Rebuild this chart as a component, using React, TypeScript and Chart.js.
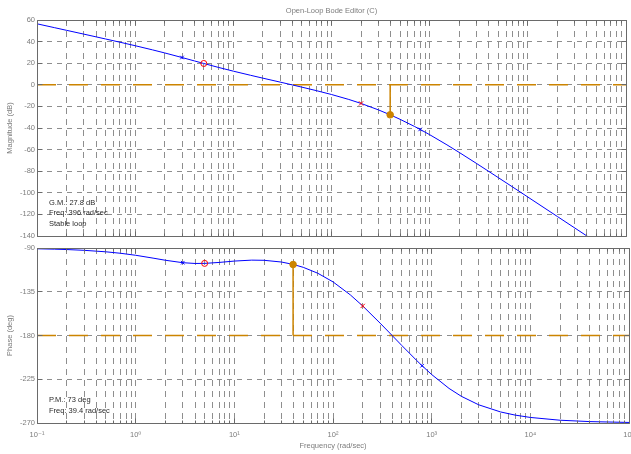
import React, { useEffect, useRef } from "react";
import { Chart, registerables } from "chart.js";

Chart.register(...registerables);

// ---------------- data ----------------
const FREQ_RAD_S = [
  0.1, 0.15, 0.2, 0.3, 0.5, 0.7, 1, 1.5, 2, 3, 4, 5, 7, 10, 15, 20, 30, 39.4, 50, 70,
  100, 150, 200, 300, 396, 500, 700, 800, 1000, 1500, 2000, 3000, 5000, 7000, 10000,
  20000, 40000, 100000,
];
const MAGNITUDE_DB = [
  56.48, 52.95, 50.45, 46.91, 42.42, 39.43, 36.19, 32.36, 29.51, 25.26, 22.15, 19.74,
  16.19, 12.63, 8.79, 6.14, 2.48, 0.0, -2.19, -5.39, -8.99, -13.56, -17.25, -23.19,
  -27.78, -31.98, -38.55, -41.33, -46.18, -55.61, -62.62, -72.82, -85.94, -94.64,
  -103.91, -121.95, -140.0, -163.86,
];
const PHASE_DEG = [
  -90.8, -91.2, -91.59, -92.38, -93.93, -95.41, -97.48, -100.41, -102.61, -105.11,
  -105.9, -105.83, -104.85, -103.45, -102.48, -102.65, -104.43, -106.85, -109.9,
  -115.93, -124.84, -138.25, -149.6, -167.25, -179.82, -190.44, -205.4, -211.1,
  -220.14, -234.42, -242.55, -251.3, -258.64, -261.86, -264.29, -267.15, -268.56,
  -269.43,
];

// plant poles (blue x), compensator zero (red o), compensator pole (red x)
const PLANT_POLE_FREQ = [3, 800];
const PLANT_POLE_MAG = [25.26, -41.33];
const PLANT_POLE_PHASE = [-105.11, -211.1];
const COMP_ZERO_FREQ = [5];
const COMP_ZERO_MAG = [19.74];
const COMP_ZERO_PHASE = [-105.83];
const COMP_POLE_FREQ = [200];
const COMP_POLE_MAG = [-17.25];
const COMP_POLE_PHASE = [-149.6];

const GAIN_MARGIN_FREQ = 396;
const GAIN_MARGIN_DB = 27.8;
const PHASE_MARGIN_FREQ = 39.4;
const PHASE_MARGIN_DEG = 73;
const MAG_REF_DB = 0;
const PHASE_REF_DEG = -180;

const X_MIN = 0.1;
const X_MAX = 100000;
const X_DECADE_EXPONENTS = [-1, 0, 1, 2, 3, 4, 5];
const X_DECADE_LABELS = ["10⁻¹", "10⁰", "10¹", "10²", "10³", "10⁴", "10⁵"];
const X_GRID_MULTIPLIERS = [1, 2, 3, 4, 5, 6, 7, 8, 9];

const MAG_MIN = -140;
const MAG_MAX = 60;
const MAG_STEP = 20;
const PHASE_MIN = -270;
const PHASE_MAX = -90;
const PHASE_STEP = 45;

const TITLE = "Open-Loop Bode Editor (C)";
const MAG_AXIS_TITLE = "Magnitude (dB)";
const PHASE_AXIS_TITLE = "Phase (deg)";
const X_AXIS_TITLE = "Frequency (rad/sec)";
const MAG_NOTES = ["G.M.: 27.8 dB", "Freq: 396 rad/sec", "Stable loop"];
const PHASE_NOTES = ["P.M.: 73 deg", "Freq: 39.4 rad/sec"];

// ---------------- styles ----------------
const FONT = '"Liberation Sans", "DejaVu Sans", Arial, sans-serif';
const FONT_SIZE = 7.5;
const LABEL_COLOR = "#7c7c7c";
const NOTE_COLOR = "#2a2a2a";
const GRID_COLOR = "#8e8e8e";
const FRAME_COLOR = "#6a6a6a";
const BLUE = "#0000ff";
const RED = "#ff0000";
const ORANGE = "#cc8400";
const NONE = "rgba(0,0,0,0)";

Chart.defaults.font.family = FONT;
Chart.defaults.font.size = FONT_SIZE;

const GRID_FREQS: number[] = [];
X_DECADE_EXPONENTS.forEach((e, i) => {
  const mults = i === X_DECADE_EXPONENTS.length - 1 ? [1] : X_GRID_MULTIPLIERS;
  mults.forEach((m) => GRID_FREQS.push(parseFloat((m * Math.pow(10, e)).toPrecision(6))));
});

function decadeLabel(v: number): string {
  const idx = X_DECADE_EXPONENTS.findIndex((e) => {
    const d = Math.pow(10, e);
    return Math.abs(d - v) < 1e-9 * d;
  });
  return idx >= 0 ? X_DECADE_LABELS[idx] : "";
}

function isDecade(v: number): boolean {
  return decadeLabel(v) !== "";
}

const align = (p: number) => Math.round(p - 0.5) + 0.5;

const framePlugin = {
  id: "matlabFrame",
  afterDatasetsDraw(chart: any) {
    const { ctx, chartArea: a } = chart;
    const l = align(a.left);
    const r = align(a.right);
    const t = align(a.top);
    const b = align(a.bottom);
    ctx.save();
    ctx.strokeStyle = FRAME_COLOR;
    ctx.lineWidth = 1;
    ctx.setLineDash([]);
    ctx.beginPath();
    const xs = chart.scales.x;
    xs.ticks.forEach((tk: any) => {
      const px = align(xs.getPixelForValue(tk.value));
      const len = isDecade(tk.value) ? 5 : 3;
      ctx.moveTo(px, b);
      ctx.lineTo(px, b - len);
      ctx.moveTo(px, t);
      ctx.lineTo(px, t + len);
    });
    const ys = chart.scales.y;
    ys.ticks.forEach((tk: any) => {
      const py = align(ys.getPixelForValue(tk.value));
      ctx.moveTo(l, py);
      ctx.lineTo(l + 5, py);
      ctx.moveTo(r, py);
      ctx.lineTo(r - 5, py);
    });
    ctx.stroke();
    ctx.beginPath();
    ctx.rect(l, t, r - l, b - t);
    ctx.stroke();
    ctx.restore();
  },
};

function notesPlugin(lines: string[]) {
  return {
    id: "notes",
    afterDraw(chart: any) {
      const { ctx, chartArea: a } = chart;
      ctx.save();
      ctx.fillStyle = NOTE_COLOR;
      ctx.font = `${FONT_SIZE}px ${FONT}`;
      ctx.textAlign = "left";
      ctx.textBaseline = "middle";
      const n = lines.length;
      lines.forEach((s, i) => {
        const y = a.bottom - 12.5 - (n - 1 - i) * 10.3;
        ctx.fillText(s, a.left + 12, y);
      });
      ctx.restore();
    },
  };
}

function xScale(showLabels: boolean, height: number) {
  return {
    type: "logarithmic",
    min: X_MIN,
    max: X_MAX,
    afterBuildTicks: (s: any) => {
      s.ticks = GRID_FREQS.map((v) => ({ value: v }));
    },
    afterFit: (s: any) => {
      s.height = height;
    },
    grid: { color: GRID_COLOR, lineWidth: 1, drawTicks: false },
    border: { display: false, dash: [6, 5] },
    ticks: {
      display: showLabels,
      autoSkip: false,
      maxRotation: 0,
      minRotation: 0,
      padding: 7,
      color: LABEL_COLOR,
      font: { size: FONT_SIZE, family: FONT },
      callback: (v: any) => decadeLabel(Number(v)),
    },
    title: {
      display: showLabels,
      text: X_AXIS_TITLE,
      color: LABEL_COLOR,
      font: { size: FONT_SIZE, family: FONT },
      padding: { top: 0, bottom: 4 },
    },
  };
}

function yScale(min: number, max: number, step: number, title: string) {
  return {
    type: "linear",
    min,
    max,
    afterFit: (s: any) => {
      s.width = 37;
    },
    grid: { color: GRID_COLOR, lineWidth: 1, drawTicks: false },
    border: { display: false, dash: [5, 5] },
    ticks: {
      stepSize: step,
      autoSkip: false,
      padding: 2,
      color: LABEL_COLOR,
      font: { size: FONT_SIZE, family: FONT },
    },
    title: {
      display: true,
      text: title,
      color: LABEL_COLOR,
      font: { size: FONT_SIZE, family: FONT },
      padding: { top: 5, bottom: 0 },
    },
  };
}

function buildDatasets(
  curve: number[],
  poleY: number[],
  zeroY: number[],
  cpoleY: number[],
  refY: number,
  marginX: number,
  marginY: number
) {
  // all markers in one point-only dataset, styled per point
  const markers: any[] = [];
  const styles: string[] = [];
  const radii: number[] = [];
  const edge: string[] = [];
  const fill: string[] = [];
  const add = (x: number, y: number, s: string, r: number, c: string, f: string) => {
    markers.push({ x, y });
    styles.push(s);
    radii.push(r);
    edge.push(c);
    fill.push(f);
  };
  PLANT_POLE_FREQ.forEach((x, i) => add(x, poleY[i], "crossRot", 2.5, BLUE, NONE));
  COMP_ZERO_FREQ.forEach((x, i) => add(x, zeroY[i], "circle", 3, RED, NONE));
  COMP_POLE_FREQ.forEach((x, i) => add(x, cpoleY[i], "crossRot", 3, RED, NONE));
  add(marginX, marginY, "circle", 3.3, ORANGE, ORANGE);

  return [
    {
      data: markers,
      showLine: false,
      borderColor: NONE,
      backgroundColor: NONE,
      borderWidth: 0,
      pointStyle: styles,
      pointRadius: radii,
      pointBorderColor: edge,
      pointBackgroundColor: fill,
      pointBorderWidth: 1,
      order: 0,
    },
    {
      data: [
        { x: marginX, y: refY },
        { x: marginX, y: marginY },
      ],
      borderColor: ORANGE,
      borderWidth: 1.5,
      pointRadius: 0,
      order: 1,
    },
    {
      data: FREQ_RAD_S.map((x, i) => ({ x, y: curve[i] })),
      borderColor: BLUE,
      borderWidth: 1,
      pointRadius: 0,
      tension: 0,
      order: 2,
    },
    {
      data: [
        { x: X_MIN, y: refY },
        { x: X_MAX, y: refY },
      ],
      borderColor: ORANGE,
      borderWidth: 1.5,
      borderDash: [19, 13],
      pointRadius: 0,
      order: 3,
    },
  ];
}

function commonOptions() {
  return {
    responsive: false,
    animation: false,
    events: [],
  };
}

export default function App() {
  const magRef = useRef<HTMLCanvasElement>(null);
  const phRef = useRef<HTMLCanvasElement>(null);

  useEffect(() => {
    const mag = new Chart(magRef.current as HTMLCanvasElement, {
      type: "line",
      data: {
        datasets: buildDatasets(
          MAGNITUDE_DB,
          PLANT_POLE_MAG,
          COMP_ZERO_MAG,
          COMP_POLE_MAG,
          MAG_REF_DB,
          GAIN_MARGIN_FREQ,
          MAG_REF_DB - GAIN_MARGIN_DB
        ) as any,
      },
      options: {
        ...commonOptions(),
        layout: { padding: { left: 0, right: 2, top: 0, bottom: 218 } },
        scales: {
          x: xScale(false, 0) as any,
          y: yScale(MAG_MIN, MAG_MAX, MAG_STEP, MAG_AXIS_TITLE) as any,
        },
        plugins: {
          legend: { display: false },
          tooltip: { enabled: false },
          title: {
            display: true,
            text: TITLE,
            color: LABEL_COLOR,
            fullSize: false,
            font: { size: FONT_SIZE, family: FONT, weight: "normal" },
            padding: { top: 6, bottom: 5 },
          },
        },
      } as any,
      plugins: [framePlugin, notesPlugin(MAG_NOTES)] as any,
    });

    const ph = new Chart(phRef.current as HTMLCanvasElement, {
      type: "line",
      data: {
        datasets: buildDatasets(
          PHASE_DEG,
          PLANT_POLE_PHASE,
          COMP_ZERO_PHASE,
          COMP_POLE_PHASE,
          PHASE_REF_DEG,
          PHASE_MARGIN_FREQ,
          PHASE_REF_DEG + PHASE_MARGIN_DEG
        ) as any,
      },
      options: {
        ...commonOptions(),
        layout: { padding: { left: 0, right: 31, top: 248, bottom: 0 } },
        scales: {
          x: xScale(true, 31) as any,
          y: yScale(PHASE_MIN, PHASE_MAX, PHASE_STEP, PHASE_AXIS_TITLE) as any,
        },
        plugins: {
          legend: { display: false },
          tooltip: { enabled: false },
          title: { display: false },
        },
      } as any,
      plugins: [framePlugin, notesPlugin(PHASE_NOTES)] as any,
    });

    return () => {
      mag.destroy();
      ph.destroy();
    };
  }, []);

  return (
    <div
      style={{
        position: "absolute",
        left: 0,
        top: 0,
        width: 631,
        height: 454,
        overflow: "hidden",
        background: "#ffffff",
      }}
    >
      <canvas
        ref={magRef}
        width={631}
        height={454}
        style={{ position: "absolute", left: 0, top: 0 }}
      />
      <canvas
        ref={phRef}
        width={660}
        height={454}
        style={{ position: "absolute", left: 0, top: 0 }}
      />
    </div>
  );
}
